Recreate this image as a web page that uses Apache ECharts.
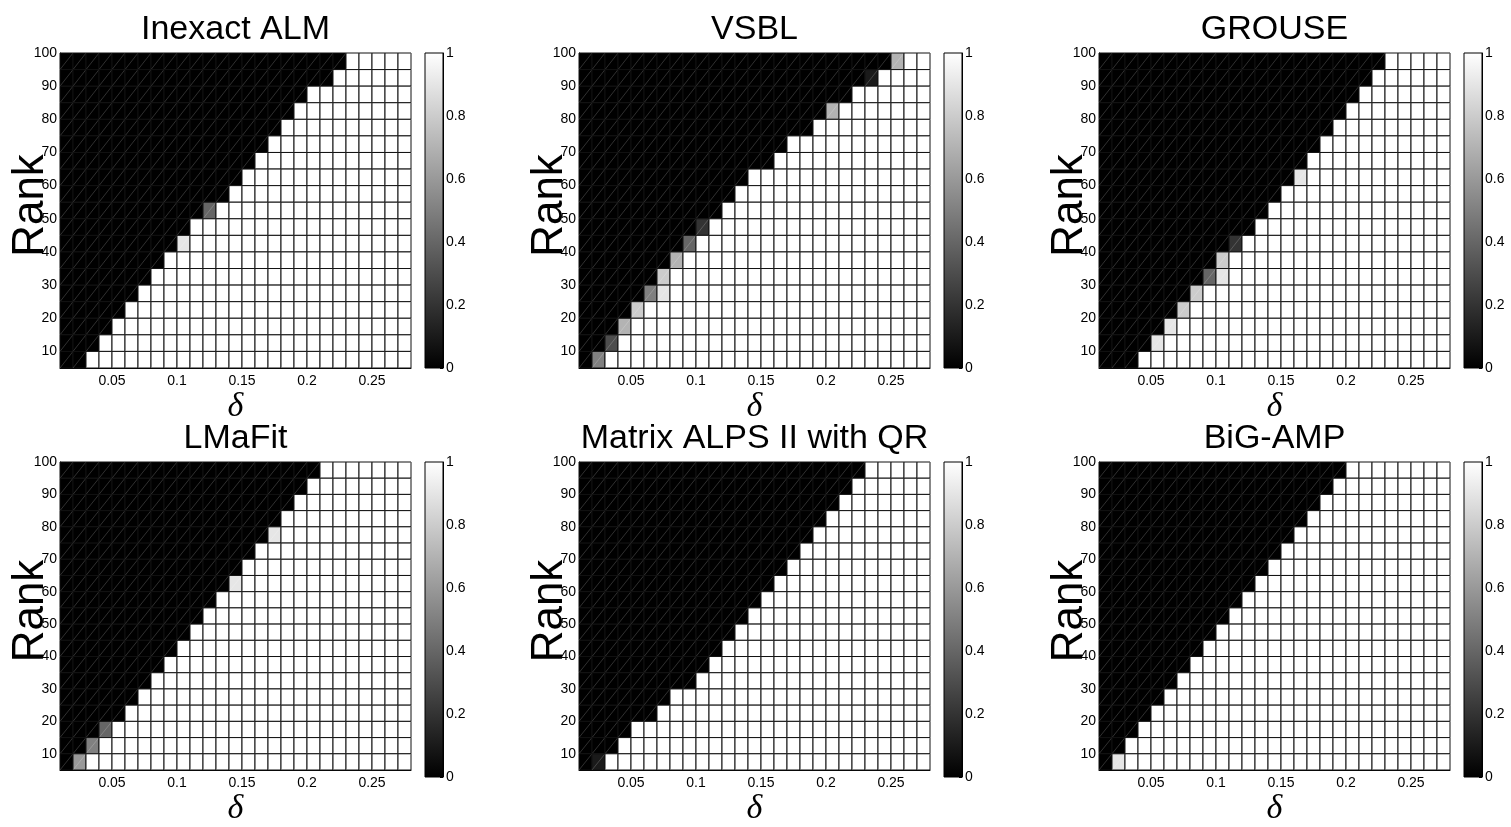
<!DOCTYPE html>
<html><head><meta charset="utf-8">
<script src="https://cdn.jsdelivr.net/npm/echarts@6/dist/echarts.min.js"></script>
<style>html,body{margin:0;padding:0;background:#fff}#chart{width:1511px;height:827px}</style>
</head><body><div id="chart"></div>
<script>
// pcolor vertices
const deltaVertices = [0.01,0.02,0.03,0.04,0.05,0.06,0.07,0.08,0.09,0.10,0.11,0.12,0.13,0.14,0.15,0.16,0.17,0.18,0.19,0.20,0.21,0.22,0.23,0.24,0.25,0.26,0.27,0.28];
const rankVertices = [5,10,15,20,25,30,35,40,45,50,55,60,65,70,75,80,85,90,95,100];
const deltaTicks = [0.05,0.1,0.15,0.2,0.25];
const rankTicks = [10,20,30,40,50,60,70,80,90,100];
const colorbarTicks = [0,0.2,0.4,0.6,0.8,1];
const titles = ['Inexact ALM','VSBL','GROUSE','LMaFit','Matrix ALPS II with QR','BiG-AMP'];

// Success rate per cell. Rows listed from top (rank 95-100) to bottom (rank 5-10);
// '#' = 0 (black), '.' = 1 (white), digit d = d/10 (gray). Spaces only group columns.
const inexactALM = [
"##### ##### ##### ##### ##... ..",
"##### ##### ##### ##### #.... ..",
"##### ##### ##### ####. ..... ..",
"##### ##### ##### ###.. ..... ..",
"##### ##### ##### ##... ..... ..",
"##### ##### ##### #.... ..... ..",
"##### ##### ##### ..... ..... ..",
"##### ##### ####. ..... ..... ..",
"##### ##### ###.. ..... ..... ..",
"##### ##### #4... ..... ..... ..",
"##### ##### ..... ..... ..... ..",
"##### ####9 ..... ..... ..... ..",
"##### ###.. ..... ..... ..... ..",
"##### ##... ..... ..... ..... ..",
"##### #.... ..... ..... ..... ..",
"##### ..... ..... ..... ..... ..",
"####. ..... ..... ..... ..... ..",
"###.. ..... ..... ..... ..... ..",
"##... ..... ..... ..... ..... .."
];
const vsbl = [
"##### ##### ##### ##### ####7 ..",
"##### ##### ##### ##### ##1.. ..",
"##### ##### ##### ##### #.... ..",
"##### ##### ##### ####7 ..... ..",
"##### ##### ##### ###.. ..... ..",
"##### ##### ##### #.... ..... ..",
"##### ##### ##### ..... ..... ..",
"##### ##### ###.. ..... ..... ..",
"##### ##### ##... ..... ..... ..",
"##### ##### #.... ..... ..... ..",
"##### ####2 ..... ..... ..... ..",
"##### ###4. ..... ..... ..... ..",
"##### ##7.. ..... ..... ..... ..",
"##### #8... ..... ..... ..... ..",
"##### 59... ..... ..... ..... ..",
"####8 ..... ..... ..... ..... ..",
"###7. ..... ..... ..... ..... ..",
"##3.. ..... ..... ..... ..... ..",
"#5... ..... ..... ..... ..... .."
];
const grouse = [
"##### ##### ##### ##### ##... ..",
"##### ##### ##### ##### #.... ..",
"##### ##### ##### ##### ..... ..",
"##### ##### ##### ####. ..... ..",
"##### ##### ##### ###.. ..... ..",
"##### ##### ##### ##... ..... ..",
"##### ##### ##### #.... ..... ..",
"##### ##### ##### 9.... ..... ..",
"##### ##### ####. ..... ..... ..",
"##### ##### ###.. ..... ..... ..",
"##### ##### ##... ..... ..... ..",
"##### ##### 2.... ..... ..... ..",
"##### ####8 ..... ..... ..... ..",
"##### ###49 ..... ..... ..... ..",
"##### ##8.. ..... ..... ..... ..",
"##### #8... ..... ..... ..... ..",
"##### 9.... ..... ..... ..... ..",
"####9 ..... ..... ..... ..... ..",
"###.. ..... ..... ..... ..... .."
];
const lmafit = [
"##### ##### ##### ##### ..... ..",
"##### ##### ##### ####. ..... ..",
"##### ##### ##### ###.. ..... ..",
"##### ##### ##### ##... ..... ..",
"##### ##### ##### #9... ..... ..",
"##### ##### ##### ..... ..... ..",
"##### ##### ####. ..... ..... ..",
"##### ##### ###9. ..... ..... ..",
"##### ##### ##... ..... ..... ..",
"##### ##### #.... ..... ..... ..",
"##### ##### ..... ..... ..... ..",
"##### ####. ..... ..... ..... ..",
"##### ###.. ..... ..... ..... ..",
"##### ##... ..... ..... ..... ..",
"##### #.... ..... ..... ..... ..",
"##### ..... ..... ..... ..... ..",
"###4. ..... ..... ..... ..... ..",
"##5.. ..... ..... ..... ..... ..",
"#6... ..... ..... ..... ..... .."
];
const alpsQR = [
"##### ##### ##### ##### ##... ..",
"##### ##### ##### ##### #.... ..",
"##### ##### ##### ##### ..... ..",
"##### ##### ##### ####. ..... ..",
"##### ##### ##### ###.. ..... ..",
"##### ##### ##### ##... ..... ..",
"##### ##### ##### #.... ..... ..",
"##### ##### ##### ..... ..... ..",
"##### ##### ####. ..... ..... ..",
"##### ##### ###.. ..... ..... ..",
"##### ##### ##... ..... ..... ..",
"##### ##### #.... ..... ..... ..",
"##### ##### ..... ..... ..... ..",
"##### ####. ..... ..... ..... ..",
"##### ##... ..... ..... ..... ..",
"##### #.... ..... ..... ..... ..",
"####. ..... ..... ..... ..... ..",
"###.. ..... ..... ..... ..... ..",
"#1... ..... ..... ..... ..... .."
];
const bigAMP = [
"##### ##### ##### ####. ..... ..",
"##### ##### ##### ###.. ..... ..",
"##### ##### ##### ##... ..... ..",
"##### ##### ##### #.... ..... ..",
"##### ##### ##### ..... ..... ..",
"##### ##### ####. ..... ..... ..",
"##### ##### ###.. ..... ..... ..",
"##### ##### ##... ..... ..... ..",
"##### ##### #.... ..... ..... ..",
"##### ##### ..... ..... ..... ..",
"##### ####. ..... ..... ..... ..",
"##### ###.. ..... ..... ..... ..",
"##### ##... ..... ..... ..... ..",
"##### #.... ..... ..... ..... ..",
"##### ..... ..... ..... ..... ..",
"####. ..... ..... ..... ..... ..",
"###.. ..... ..... ..... ..... ..",
"##... ..... ..... ..... ..... ..",
"#9... ..... ..... ..... ..... .."
];
const panels = [inexactALM, vsbl, grouse, lmafit, alpsQR, bigAMP];

// ---- layout ----
const plotLeft = [60, 579, 1099];
const plotTop = [53, 462];
const plotW = 351, plotH = 315;
const cbOffset = 365, cbW = 18;
const FONT = 'Liberation Sans';

function cellValue(ch) {
  if (ch === '#') return 0;
  if (ch === '.') return 1;
  return Number(ch) / 10;
}
function panelData(rows) {
  const out = [];
  const nRows = rows.length;
  rows.forEach((rowStr, i) => {
    const r = nRows - 1 - i;
    const cells = rowStr.replace(/ /g, '');
    for (let c = 0; c < cells.length; c++) {
      out.push([deltaVertices[c], rankVertices[r], deltaVertices[c + 1], rankVertices[r + 1], cellValue(cells[c])]);
    }
  });
  return out;
}
function renderCell(params, api) {
  const p0 = api.coord([api.value(0), api.value(1)]);
  const p1 = api.coord([api.value(2), api.value(3)]);
  const x = Math.min(p0[0], p1[0]), y = Math.min(p0[1], p1[1]);
  const w = Math.abs(p1[0] - p0[0]), h = Math.abs(p1[1] - p0[1]);
  return {
    type: 'group',
    children: [
      { type: 'rect', shape: { x: x, y: y, width: w, height: h },
        style: { fill: api.visual('color'), stroke: '#111', lineWidth: 1 } },
      { type: 'line', shape: { x1: p0[0], y1: p0[1], x2: p1[0], y2: p1[1] },
        style: { stroke: 'rgba(255,255,255,0.24)', lineWidth: 0.8 } }
    ]
  };
}
function renderColorbar(params, api) {
  const p0 = api.coord([api.value(0), api.value(1)]);
  const p1 = api.coord([api.value(2), api.value(3)]);
  return {
    type: 'rect',
    shape: { x: p0[0], y: p1[1], width: p1[0] - p0[0], height: p0[1] - p1[1] },
    style: {
      fill: { type: 'linear', x: 0, y: 0, x2: 0, y2: 1,
        colorStops: [{ offset: 0, color: '#ffffff' }, { offset: 1, color: '#000000' }] },
      stroke: '#000', lineWidth: 1
    }
  };
}

const grid = [], xAxis = [], yAxis = [], series = [], title = [];
const labelStyle = { color: '#000', fontFamily: FONT, fontSize: 14 };
panels.forEach((rows, p) => {
  const col = p % 3, row = Math.floor(p / 3);
  const L = plotLeft[col], T = plotTop[row];
  grid.push({ left: L, top: T, width: plotW, height: plotH });
  xAxis.push({
    gridIndex: p, type: 'value', min: deltaVertices[0], max: deltaVertices[deltaVertices.length - 1],
    axisLine: { show: true, onZero: false, lineStyle: { color: '#000', width: 1 } },
    axisTick: { show: false }, splitLine: { show: false },
    axisLabel: Object.assign({ customValues: deltaTicks, margin: 6, formatter: v => String(v) }, labelStyle),
    name: 'δ', nameLocation: 'middle', nameGap: 22, nameMoveOverlap: false,
    nameTextStyle: { fontFamily: 'Liberation Serif', fontStyle: 'italic', fontSize: 34, color: '#000' }
  });
  yAxis.push({
    gridIndex: p, type: 'value', min: rankVertices[0], max: rankVertices[rankVertices.length - 1],
    axisLine: { show: true, onZero: false, lineStyle: { color: '#000', width: 1 } },
    axisTick: { show: false }, splitLine: { show: false },
    axisLabel: Object.assign({ customValues: rankTicks, margin: 3 }, labelStyle),
    name: 'Rank', nameLocation: 'middle', nameGap: 7, nameMoveOverlap: false,
    nameTextStyle: { fontFamily: FONT, fontSize: 44, color: '#000', padding: [0, 0, 0, 10] }
  });
  series.push({
    type: 'custom', name: titles[p], xAxisIndex: p, yAxisIndex: p,
    encode: { x: [0, 2], y: [1, 3] },
    renderItem: renderCell, data: panelData(rows), silent: true
  });
  title.push({
    text: titles[p], left: L + plotW / 2, top: T - 40, textAlign: 'center', padding: 0,
    textStyle: { fontFamily: FONT, fontSize: 34, fontWeight: 'normal', color: '#000' }
  });
});
// colorbars
panels.forEach((rows, p) => {
  const col = p % 3, row = Math.floor(p / 3);
  const k = 6 + p;
  grid.push({ left: plotLeft[col] + cbOffset, top: plotTop[row], width: cbW, height: plotH });
  xAxis.push({ gridIndex: k, type: 'value', min: 0, max: 1, show: false });
  yAxis.push({
    gridIndex: k, type: 'value', position: 'right', min: colorbarTicks[0], max: colorbarTicks[colorbarTicks.length - 1],
    interval: 0.2,
    axisLine: { show: true, onZero: false, lineStyle: { color: '#000', width: 1 } },
    axisTick: { show: true, inside: true, length: 3, lineStyle: { color: '#000' } },
    splitLine: { show: false },
    axisLabel: Object.assign({ margin: 3 }, labelStyle)
  });
  series.push({
    type: 'custom', xAxisIndex: k, yAxisIndex: k,
    encode: { x: [0, 2], y: [1, 3] },
    renderItem: renderColorbar, data: [[0, 0, 1, 1]], silent: true, z: 1
  });
});

const chart = echarts.init(document.getElementById('chart'), null, { renderer: 'canvas' });
chart.setOption({
  backgroundColor: '#fff',
  animation: false,
  title: title,
  grid: grid, xAxis: xAxis, yAxis: yAxis,
  visualMap: {
    type: 'continuous', show: false, min: 0, max: 1, dimension: 4,
    seriesIndex: [0, 1, 2, 3, 4, 5],
    inRange: { color: ['#000000', '#ffffff'] }
  },
  series: series
});
</script></body></html>
